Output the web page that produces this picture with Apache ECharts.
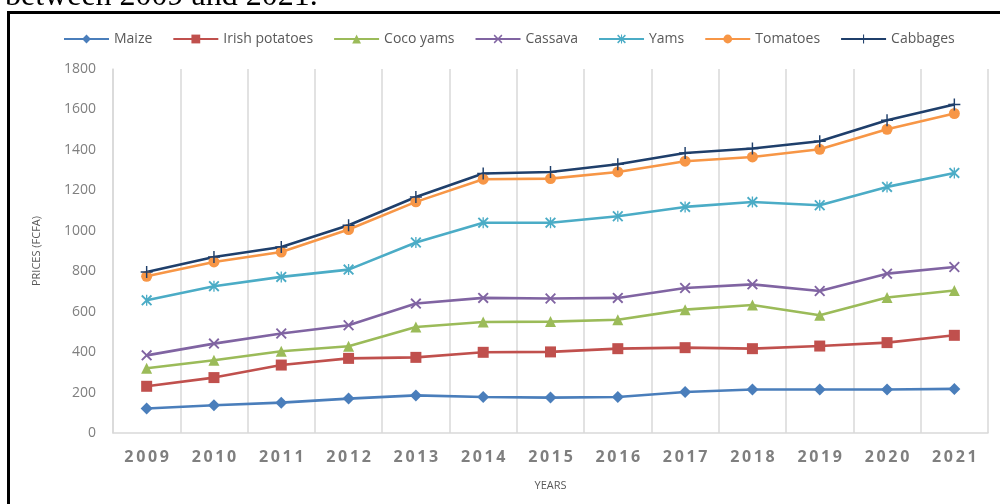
<!DOCTYPE html>
<html>
<head>
<meta charset="utf-8">
<script src="https://cdn.jsdelivr.net/npm/echarts@6/dist/echarts.min.js"></script>
<style>html,body{margin:0;padding:0;background:#fff;}#c{width:1000px;height:504px;}</style>
</head>
<body>
<div id="c"></div>
<script>
const years = ['2009','2010','2011','2012','2013','2014','2015','2016','2017','2018','2019','2020','2021'];
const yTicks = [0,200,400,600,800,1000,1200,1400,1600,1800];
const maize = [121,137,150,170,186,178,175,178,203,215,215,215,218];
const irishPotatoes = [231,274,336,369,374,399,401,417,422,417,430,447,483];
const cocoYams = [320,360,404,429,524,549,551,560,610,633,582,670,705];
const cassava = [384,442,492,533,640,668,665,668,717,735,702,788,821];
const yams = [656,726,772,808,942,1040,1040,1072,1118,1142,1126,1217,1286];
const tomatoes = [775,846,895,1006,1143,1255,1258,1291,1344,1365,1403,1502,1580];
const cabbages = [796,870,920,1027,1167,1283,1291,1329,1385,1407,1443,1547,1624];

const X_PATH = 'path://M0,1.2 L1.2,0 L5,3.8 L8.8,0 L10,1.2 L6.2,5 L10,8.8 L8.8,10 L5,6.2 L1.2,10 L0,8.8 L3.8,5 Z';
const PLUS_PATH = 'path://M4.4,0 L5.6,0 L5.6,4.4 L10,4.4 L10,5.6 L5.6,5.6 L5.6,10 L4.4,10 L4.4,5.6 L0,5.6 L0,4.4 L4.4,4.4 Z';
const AST_PATH = 'path://M0,1.2 L1.2,0 L5,3.8 L8.8,0 L10,1.2 L6.2,5 L10,8.8 L8.8,10 L5,6.2 L1.2,10 L0,8.8 L3.8,5 Z M4.4,0 L5.6,0 L5.6,10 L4.4,10 Z';

function s(name, data, color, symbol, size) {
  return {
    name, type: 'line', data, symbol, symbolSize: size,
    lineStyle: { color, width: 2.6 },
    itemStyle: { color },
    emphasis: { disabled: true }
  };
}

const chart = echarts.init(document.getElementById('c'));
chart.setOption({
  animation: false,
  backgroundColor: '#fff',
  textStyle: { fontFamily: 'Open Sans, sans-serif' },
  graphic: [
    { type: 'text', x: 5, y: -19, silent: true, z: 10,
      style: { text: 'between 2009 and 2021.', fontSize: 32, fontFamily: 'Liberation Serif', fill: '#000' } },
    { type: 'rect', silent: true, shape: { x: 8.5, y: 12.5, width: 1010, height: 520 }, style: { fill: 'none', stroke: '#000', lineWidth: 3 } }
  ],
  legend: {
    top: 27, left: 58, itemWidth: 45, itemHeight: 11, itemGap: 20,
    textStyle: { color: '#595959', fontSize: 14, fontFamily: 'Open Sans, sans-serif' },
    data: ['Maize','Irish potatoes','Coco yams','Cassava','Yams','Tomatoes','Cabbages']
  },
  grid: { left: 113, right: 12, top: 69, bottom: 71 },
  xAxis: {
    type: 'category', data: years, boundaryGap: true,
    name: 'YEARS', nameLocation: 'middle', nameGap: 47,
    nameTextStyle: { color: '#595959', fontSize: 11 },
    axisLine: { show: true, lineStyle: { color: '#d9d9d9', width: 1.5 } },
    axisTick: { show: false },
    axisLabel: { color: '#7f7f7f', fontSize: 16, margin: 16, fontWeight: 'bold', fontFamily: 'Open Sans, sans-serif',
      formatter: v => v.split('').join('\u2009') },
    splitLine: { show: true, lineStyle: { color: '#d9d9d9', width: 1.5 } }
  },
  yAxis: {
    type: 'value', min: yTicks[0], max: yTicks[yTicks.length-1], interval: 200,
    name: 'PRICES (FCFA)', nameLocation: 'middle', nameGap: 71, nameRotate: 90,
    nameTextStyle: { color: '#595959', fontSize: 11 },
    axisLine: { show: true, lineStyle: { color: '#d9d9d9', width: 1.5 } }, axisTick: { show: false },
    axisLabel: { color: '#7f7f7f', fontSize: 14, margin: 17, formatter: v => String(v) },
    splitLine: { show: false }
  },
  series: [
    s('Maize', maize, '#4a7ebb', 'diamond', 12),
    s('Irish potatoes', irishPotatoes, '#c0504d', 'rect', 11),
    s('Coco yams', cocoYams, '#9bbb59', 'triangle', 11),
    s('Cassava', cassava, '#8064a2', X_PATH, 11),
    s('Yams', yams, '#4bacc6', AST_PATH, 11),
    s('Tomatoes', tomatoes, '#f79646', 'circle', 11),
    s('Cabbages', cabbages, '#1f3f6b', PLUS_PATH, 12)
  ]
});
</script>
</body>
</html>
